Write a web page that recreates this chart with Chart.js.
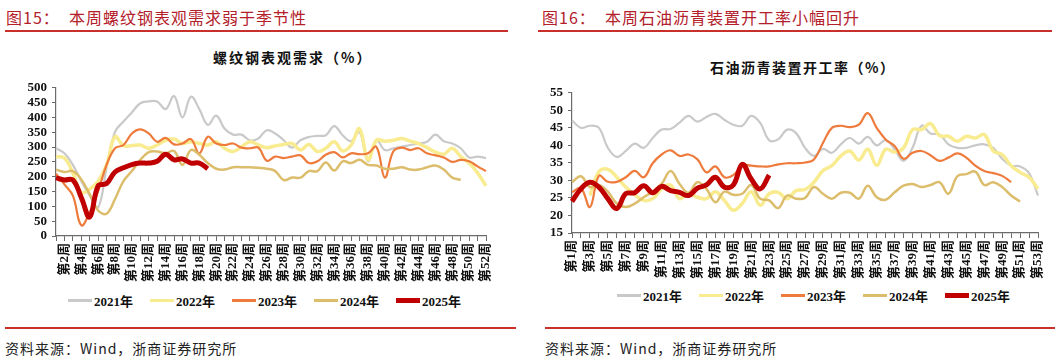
<!DOCTYPE html>
<html>
<head>
<meta charset="utf-8">
<script src="https://cdn.jsdelivr.net/npm/chart.js@4"></script>
<style>
  body { margin: 0; width: 1057px; height: 360px; background: #fff; position: relative; overflow: hidden;
         font-family: 'Liberation Serif', 'Noto Sans CJK SC', serif; }
  .abs { position: absolute; white-space: nowrap; }
  .head { font-family: 'Noto Sans CJK SC', sans-serif; color: #b3202a; font-size: 16px; top: 5px; letter-spacing: 1px; }
  .rule { position: absolute; height: 2px; background: #c9302c; }
  .src { font-family: 'Noto Sans CJK SC', sans-serif; font-size: 14px; color: #222; top: 338px; letter-spacing: 1px; }
  .ttl { font-family: 'Noto Sans CJK SC', sans-serif; font-size: 14px; font-weight: bold; color: #111; }
  .leg { position: absolute; display: flex; align-items: center; font-weight: bold; font-size: 13px; color: #111; }
  .leg span.sw { display: inline-block; width: 24px; margin-right: 2px; }
  .leg span.item { display: flex; align-items: center; margin-right: 17px; }
  canvas { position: absolute; }
</style>
</head>
<body>
<div class="abs head" style="left:6px">图15：&nbsp;&nbsp;本周螺纹钢表观需求弱于季节性</div>
<div class="abs head" style="left:542px">图16：&nbsp;&nbsp;本周石油沥青装置开工率小幅回升</div>
<div class="rule" style="left:5px; width:503px; top:30px"></div>
<div class="rule" style="left:538px; width:514px; top:30px"></div>

<div class="abs ttl" style="left:213px; top:47px; letter-spacing:2px">螺纹钢表观需求（%）</div>
<div class="abs ttl" style="left:710px; top:57px; letter-spacing:1.5px">石油沥青装置开工率（%）</div>

<div style="position:absolute; left:0; top:75px; width:510px; height:216px"><canvas id="rebar"></canvas></div>
<div style="position:absolute; left:520px; top:80px; width:537px; height:203px"><canvas id="asphalt"></canvas></div>

<div class="leg" id="legL" style="left:68px; top:291px"></div>
<div class="leg" id="legR" style="left:617px; top:286px"></div>

<div class="rule" style="left:5px; width:511px; top:327px"></div>
<div class="rule" style="left:545px; width:510px; top:327px"></div>
<div class="abs src" style="left:5px">资料来源：Wind，浙商证券研究所</div>
<div class="abs src" style="left:545px">资料来源：Wind，浙商证券研究所</div>

<script>
// series names and colours
const years = ['2021年', '2022年', '2023年', '2024年', '2025年'];
const colors = ['#c9c9c9', '#f9eb8f', '#ee7b3c', '#dcbd6c', '#c00000'];
const widths = [2.2, 3.5, 2.2, 2.5, 5];

// 螺纹钢表观需求, weeks 1-52
const rebarWeeks = Array.from({ length: 52 }, (_, i) => '第' + (i + 1) + '周');
const rebar2021 = [296, 279, 240, 185, 136, 97, 230, 351, 386, 417, 448, 454, 454, 428, 472, 400, 470, 428, 375, 406,
  362, 342, 342, 323, 329, 357, 346, 323, 298, 323, 334, 338, 340, 371, 340, 320, 351, 252, 323, 290,
  296, 301, 307, 312, 318, 342, 320, 312, 296, 265, 268, 263];
const rebar2022 = [268, 263, 213, 147, 158, 185, 240, 335, 305, 305, 307, 296, 307, 323, 327, 312, 318, 312, 307, 318,
  296, 285, 301, 318, 307, 298, 304, 309, 312, 290, 309, 285, 296, 318, 287, 307, 362, 257, 323, 320,
  323, 329, 320, 312, 298, 283, 276, 296, 268, 246, 213, 169];
const rebar2023 = [210, 174, 136, 36, 80, 152, 240, 296, 307, 346, 360, 346, 318, 331, 309, 312, 327, 279, 335, 312,
  307, 312, 298, 296, 298, 254, 268, 263, 268, 272, 246, 252, 274, 283, 265, 279, 276, 279, 301, 197,
  285, 298, 290, 296, 279, 272, 265, 250, 257, 252, 235, 219];
const rebar2024 = [224, 216, 219, 191, 141, 86, 75, 125, 185, 219, 257, 283, 285, 279, 287, 240, 290, 274, 246, 227,
  224, 232, 232, 232, 230, 227, 219, 189, 197, 197, 219, 219, 248, 221, 252, 246, 257, 240, 238, 227,
  227, 232, 224, 224, 232, 238, 224, 197, 189];
const rebar2025 = [196, 189, 189, 130, 64, 169, 177, 216, 230, 241, 246, 246, 252, 276, 257, 260, 246, 246, 227];
const rebarTicks = { min: 0, max: 500, step: 50 };

// 石油沥青装置开工率, weeks 1-53
const asphaltWeeks = Array.from({ length: 53 }, (_, i) => '第' + (i + 1) + '周');
const asphalt2021 = [47.1, 45.0, 45.6, 45.0, 39.3, 36.7, 38.4, 40.5, 39.3, 42.1, 44.5, 44.7, 46.5, 48.4, 46.8, 48.1, 49.0, 47.3,
  45.9, 45.6, 48.4, 46.4, 41.5, 41.7, 44.5, 43.5, 39.3, 37.0, 39.0, 37.9, 40.3, 42.1, 40.5, 42.4, 40.0, 41.5,
  38.9, 35.6, 39.3, 45.6, 43.4, 43.1, 40.3, 39.3, 39.3, 40.0, 40.3, 39.3, 36.2, 34.2, 34.0, 32.1, 25.7];
const asphalt2022 = [null, null, 25.7, 32.5, 33.2, 30.9, 28.1, 25.9, 24.3, 24.8, 27.6, 28.7, 24.8, 26.2, 25.2, 24.8, 26.8, 24.3,
  21.5, 23.4, 26.8, 22.9, 26.2, 26.6, 24.8, 27.1, 27.4, 29.5, 32.8, 34.2, 37.0, 38.4, 35.8, 38.9, 34.3, 38.9,
  38.1, 39.3, 44.5, 44.5, 46.2, 42.8, 42.6, 41.2, 42.6, 42.1, 43.1, 38.4, 37.4, 34.2, 32.3, 30.9, 27.6];
const asphalt2023 = [26.6, 27.8, 22.4, 31.3, 29.6, 29.6, 30.9, 32.7, 30.9, 34.9, 37.4, 38.6, 37.0, 37.4, 36.0, 32.3, 34.0, 30.9,
  31.5, 34.3, 34.2, 34.0, 34.0, 34.6, 34.9, 34.9, 35.1, 36.0, 40.7, 45.0, 45.6, 45.2, 45.9, 49.2, 45.0, 41.7,
  39.8, 36.2, 37.9, 38.4, 37.2, 35.6, 36.5, 37.7, 36.5, 34.2, 32.7, 32.1, 31.3, 29.5];
const asphalt2024 = [29.5, 31.2, 28.1, 28.7, 26.8, 23.4, 22.4, 23.4, 25.2, 26.8, 29.0, 32.7, 29.0, 26.5, 29.5, 27.6, 23.8, 26.8,
  25.9, 26.2, 28.7, 24.8, 24.3, 22.1, 25.7, 24.8, 25.0, 28.1, 26.2, 24.8, 26.5, 26.5, 24.8, 28.5, 25.2, 24.5,
  26.6, 28.5, 29.0, 28.1, 28.7, 29.5, 26.2, 31.2, 31.8, 32.5, 28.7, 29.5, 28.1, 25.7, 24.0];
const asphalt2025 = [24.0, 27.6, 29.5, 28.1, 24.8, 22.0, 26.2, 26.5, 28.5, 26.5, 28.3, 27.1, 26.6, 25.7, 27.8, 28.7, 30.9, 28.1,
  28.7, 34.6, 30.4, 27.6, 31.5];
const asphaltTicks = { min: 15, max: 55, step: 5 };

const tickFont = { family: "'Liberation Serif', 'Noto Sans CJK SC', serif", weight: 'bold', size: 13 };
const xFont = { family: "'Liberation Serif', 'Noto Sans CJK SC', serif", weight: 'bold', size: 13 };
const axisColor = '#6b6b6b';

function makeChart(id, labels, series, ticks, showEven, yWidth, xHeight, pad) {
  const datasets = series.map((data, i) => ({
    label: years[i],
    data: data,
    borderColor: colors[i],
    backgroundColor: colors[i],
    borderWidth: widths[i],
    pointRadius: 0,
    tension: 0.4,
    fill: false,
    order: series.length - i,
  }));
  return new Chart(document.getElementById(id), {
    type: 'line',
    data: { labels: labels, datasets: datasets },
    options: {
      responsive: true,
      maintainAspectRatio: false,
      animation: false,
      layout: { padding: pad },
      plugins: { legend: { display: false }, tooltip: { enabled: false } },
      scales: {
        x: {
          offset: false,
          grid: { display: true, drawOnChartArea: false, color: axisColor, tickLength: 5 },
          border: { color: axisColor, width: 1.2 },
          ticks: {
            autoSkip: false, maxRotation: 90, minRotation: 90, padding: 2,
            color: '#111', font: xFont,
            callback: function (v, idx) {
              const wk = idx + 1;
              return (showEven ? wk % 2 === 0 : wk % 2 === 1) ? labels[idx] : '';
            },
          },
          afterFit: (s) => { s.height = xHeight; },
        },
        y: {
          min: ticks.min, max: ticks.max,
          grid: { display: true, drawOnChartArea: false, color: axisColor, tickLength: 4 },
          border: { color: axisColor, width: 1.2 },
          ticks: { stepSize: ticks.step, autoSkip: false, color: '#111', font: tickFont, padding: 5 },
          afterFit: (s) => { s.width = yWidth; },
        },
      },
    },
  });
}

makeChart('rebar', rebarWeeks, [rebar2021, rebar2022, rebar2023, rebar2024, rebar2025], rebarTicks, true,
  56, 55, { top: 10, right: 24, left: 0, bottom: 0 });
makeChart('asphalt', asphaltWeeks, [asphalt2021, asphalt2022, asphalt2023, asphalt2024, asphalt2025], asphaltTicks, false,
  52, 50, { top: 11, right: 19, left: 0, bottom: 0 });

// legends
function buildLegend(id) {
  const el = document.getElementById(id);
  years.forEach((y, i) => {
    const item = document.createElement('span');
    item.className = 'item';
    const sw = document.createElement('span');
    sw.className = 'sw';
    sw.style.height = (i === 4 ? 5 : 3) + 'px';
    sw.style.background = colors[i];
    item.appendChild(sw);
    item.appendChild(document.createTextNode(y));
    el.appendChild(item);
  });
}
buildLegend('legL');
buildLegend('legR');
</script>
</body>
</html>
